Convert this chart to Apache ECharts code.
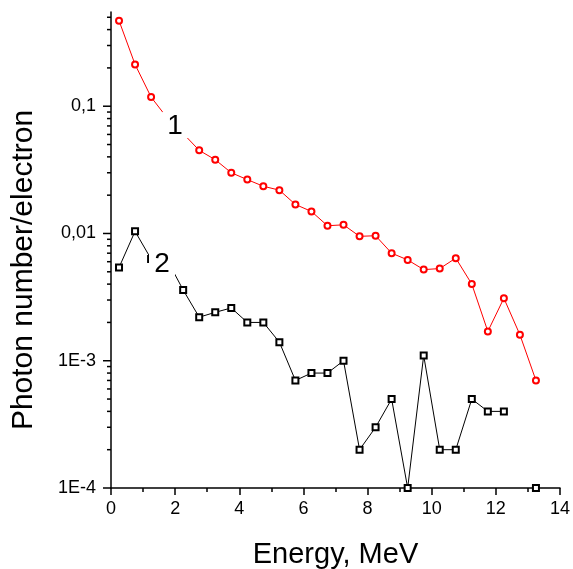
<!DOCTYPE html>
<html>
<head>
<meta charset="utf-8">
<script src="https://cdn.jsdelivr.net/npm/echarts@6/dist/echarts.min.js"></script>
<style>
  html, body { margin: 0; padding: 0; background: #fff; }
  #container { width: 573px; height: 569px; }
</style>
</head>
<body>
<div id="container"></div>
<script>
var myChart = echarts.init(document.getElementById('container'));

// energy bins, MeV
var energy = [0.25, 0.75, 1.25, 1.75, 2.25, 2.75, 3.25, 3.75, 4.25, 4.75, 5.25, 5.75, 6.25, 6.75,
  7.25, 7.75, 8.25, 8.75, 9.25, 9.75, 10.25, 10.75, 11.25, 11.75, 12.25, 12.75, 13.25];

// curve 1 (red circles)
var curve1 = [0.47, 0.213, 0.118, 0.081, 0.061, 0.045, 0.038, 0.030, 0.0265, 0.0235, 0.0219, 0.0169, 0.0149, 0.0115,
  0.0117, 0.0095, 0.0096, 0.0070, 0.0062, 0.0052, 0.0053, 0.0064, 0.0040, 0.0017, 0.0031, 0.0016, 0.0007];

// curve 2 (black squares), gap at 12.75
var curve2 = [0.0054, 0.0104, 0.0063, 0.0062, 0.0036, 0.0022, 0.0024, 0.0026, 0.0020, 0.0020, 0.0014, 0.0007, 0.0008, 0.0008,
  0.0010, 0.0002, 0.0003, 0.0005, 0.0001, 0.0011, 0.0002, 0.0002, 0.0005, 0.0004, 0.0004, null, 0.0001];

// curve labels: [x, y, text]
var curveLabels = [[2.0, 0.0712, '1'], [1.59, 0.00585, '2']];

// y axis ticks
var yMajorTicks = [1e-4, 1e-3, 1e-2, 1e-1];
var yTickLabels = ['1E-4', '1E-3', '0,01', '0,1'];
var yMinorTicks = [];
yMajorTicks.forEach(function (d) {
  for (var k = 2; k <= 9; k++) {
    if (d * k <= 0.55) yMinorTicks.push(d * k);
  }
});

function pairs(xs, ys) {
  return xs.map(function (x, i) { return [x, ys[i]]; });
}

var tickData = yMajorTicks.map(function (v) { return [0, v, 1]; })
  .concat(yMinorTicks.map(function (v) { return [0, v, 0]; }));

var font = "'Liberation Sans', Arial, sans-serif";

var option = {
  animation: false,
  backgroundColor: '#fff',
  grid: {
    left: 111,
    right: 13,
    top: 12,
    bottom: 81,
    outerBoundsMode: 'none'
  },
  xAxis: {
    type: 'value',
    min: 0,
    max: 14,
    interval: 2,
    name: 'Energy, MeV',
    nameLocation: 'middle',
    nameGap: 52,
    nameTextStyle: { fontFamily: font, fontSize: 29, color: '#000' },
    axisLine: { onZero: false, lineStyle: { color: '#000', width: 1.5 } },
    axisTick: { length: 7, lineStyle: { color: '#000', width: 1.5 } },
    minorTick: { show: true, splitNumber: 2, length: 4, lineStyle: { color: '#000', width: 1.5 } },
    splitLine: { show: false },
    axisLabel: { fontFamily: font, fontSize: 18, color: '#000', margin: 12 }
  },
  yAxis: {
    type: 'log',
    min: 1e-4,
    max: 0.55,
    name: 'Photon number/electron',
    nameLocation: 'middle',
    nameGap: 72,
    nameTextStyle: { fontFamily: font, fontSize: 30, color: '#000', padding: [0, 40, 0, 0] },
    axisLine: { show: true, lineStyle: { color: '#000', width: 1.5 } },
    axisTick: { show: false },
    splitLine: { show: false },
    axisLabel: {
      fontFamily: font,
      fontSize: 18,
      color: '#000',
      margin: 15,
      formatter: function (v) {
        for (var i = 0; i < yMajorTicks.length; i++) {
          if (Math.abs(Math.log10(v) - Math.log10(yMajorTicks[i])) < 1e-6) return yTickLabels[i];
        }
        return '';
      }
    }
  },
  series: [
    {
      name: 'ticks',
      type: 'custom',
      silent: true,
      data: tickData,
      encode: { x: 0, y: 1 },
      renderItem: function (params, api) {
        var p = api.coord([api.value(0), api.value(1)]);
        var len = api.value(2) ? 8 : 4;
        return {
          type: 'line',
          shape: { x1: p[0] - len, y1: p[1], x2: p[0], y2: p[1] },
          style: { stroke: '#000', lineWidth: 1.5 }
        };
      }
    },
    {
      name: '1',
      type: 'line',
      clip: false,
      data: pairs(energy, curve1),
      symbol: 'emptyCircle',
      symbolSize: 6,
      lineStyle: { color: '#ff0000', width: 1 },
      itemStyle: { color: '#ff0000', borderWidth: 1 }
    },
    {
      name: '2',
      type: 'line',
      clip: false,
      connectNulls: false,
      data: pairs(energy, curve2),
      symbol: 'emptyRect',
      symbolSize: 6,
      lineStyle: { color: '#000', width: 1 },
      itemStyle: { color: '#000', borderWidth: 1 }
    },
    {
      name: 'labels',
      type: 'custom',
      z: 10,
      silent: true,
      data: curveLabels,
      encode: { x: 0, y: 1 },
      renderItem: function (params, api) {
        var p = api.coord([api.value(0), api.value(1)]);
        return {
          type: 'group',
          children: [
            {
              type: 'rect',
              shape: { x: p[0] - 13, y: p[1] - 13, width: 26, height: 26 },
              style: { fill: '#fff' }
            },
            {
              type: 'text',
              x: p[0],
              y: p[1] + 1,
              style: {
                text: curveLabels[params.dataIndex][2],
                fontFamily: font,
                fontSize: 28,
                fill: '#000',
                align: 'center',
                verticalAlign: 'middle'
              }
            }
          ]
        };
      }
    }
  ]
};

myChart.setOption(option);
</script>
</body>
</html>
